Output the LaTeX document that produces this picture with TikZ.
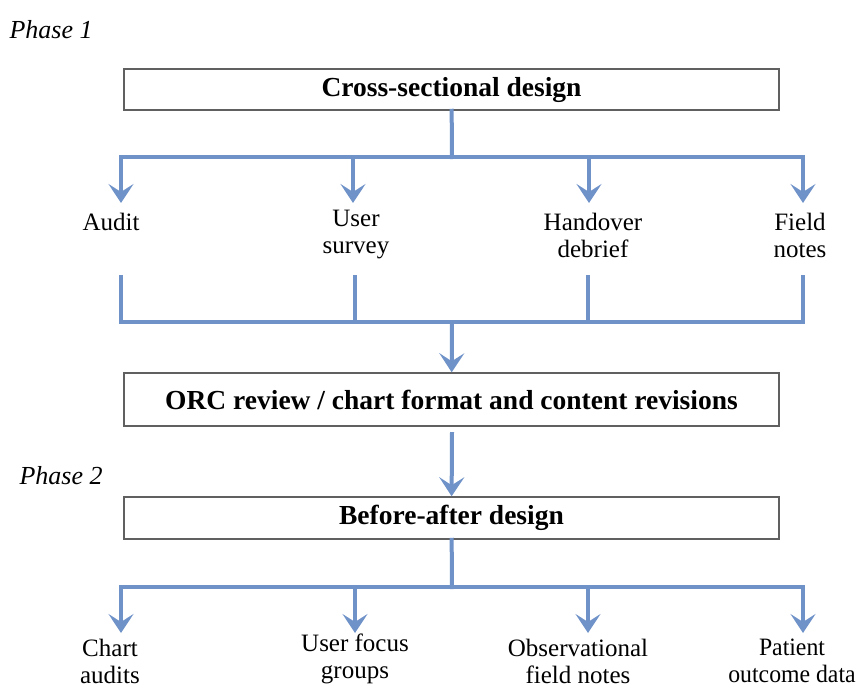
\documentclass[tikz,border=0pt]{standalone}
\usepackage{fontspec}
\setmainfont{Liberation Serif}
\usepackage{tikz}
\usetikzlibrary{arrows.meta,positioning}
\definecolor{flowblue}{RGB}{111,146,201}
\definecolor{boxgray}{RGB}{96,96,96}
\tikzset{>={Stealth[length=19pt,width=25pt,inset=8pt]}}

\begin{document}
\begin{tikzpicture}[x=1pt,y=1pt,
    stage/.style={draw=boxgray,line width=1.5pt,minimum width=655pt,inner sep=0pt,
        font=\fontsize{27.5}{30}\selectfont\bfseries},
    lab/.style={align=center,font=\fontsize{25}{27}\selectfont},
    phase/.style={font=\fontsize{26}{28}\selectfont\itshape,anchor=west},
    flow/.style={draw=flowblue,line width=4pt,line cap=rect}]
    \useasboundingbox (0,0) rectangle (862,-689);

    \node[phase] (p1) at (6,-30) {Phase 1};
    \node[phase] (p2) at (16,-476) {Phase 2};

    \node[stage,minimum height=41pt] (cross) at (451.5,-89.5) {Cross-sectional design};
    \node[stage,minimum height=53pt] (orc) at (451.5,-399.5) {ORC review / chart format and content revisions};
    \node[stage,minimum height=42pt] (ba) at (451.5,-518) {Before-after design};

    % phase 1 branches
    \coordinate (j1) at (452,-157);
    \coordinate (t1) at (121,-203);
    \coordinate (t2) at (353,-203);
    \coordinate (t3) at (589,-203);
    \coordinate (t4) at (803,-203);
    \node[lab] (audit) at (111,-222) {Audit};
    \node[lab] (survey) at (356,-235) {User\\survey};
    \node[lab] (handover) at (593,-235) {Handover\\debrief};
    \node[lab] (field) at (800,-235) {Field\\notes};
    \draw[flow] (cross) -- (j1);
    \foreach \t in {t1,t2,t3,t4}
        \draw[flow,->,line cap=butt] (j1) -| (\t);

    % merge
    \coordinate (j2) at (452,-322);
    \coordinate (u1) at (121,-277);
    \coordinate (u2) at (355,-277);
    \coordinate (u3) at (588,-277);
    \coordinate (u4) at (803,-277);
    \foreach \u in {u1,u2,u3,u4}
        \draw[flow] (\u) |- (j2);
    \draw[flow,->,line cap=butt] (j2) -- (orc);
    \draw[flow,->,line cap=butt] (452,-432) coordinate (o1) -- (ba);

    % phase 2 branches
    \coordinate (j3) at (452,-587);
    \coordinate (s1) at (121,-633);
    \coordinate (s2) at (355,-633);
    \coordinate (s3) at (588,-633);
    \coordinate (s4) at (803,-633);
    \node[lab] (chart) at (110,-661) {Chart\\audits};
    \node[lab] (focus) at (355,-659) {User focus\\groups};
    \node[lab] (obs) at (578,-661) {Observational\\field notes};
    \node[lab,xscale=0.95] (patient) at (792,-661) {Patient\\outcome data};
    \draw[flow] (ba) -- (j3);
    \foreach \s in {s1,s2,s3,s4}
        \draw[flow,->,line cap=butt] (j3) -| (\s);
\end{tikzpicture}
\end{document}
